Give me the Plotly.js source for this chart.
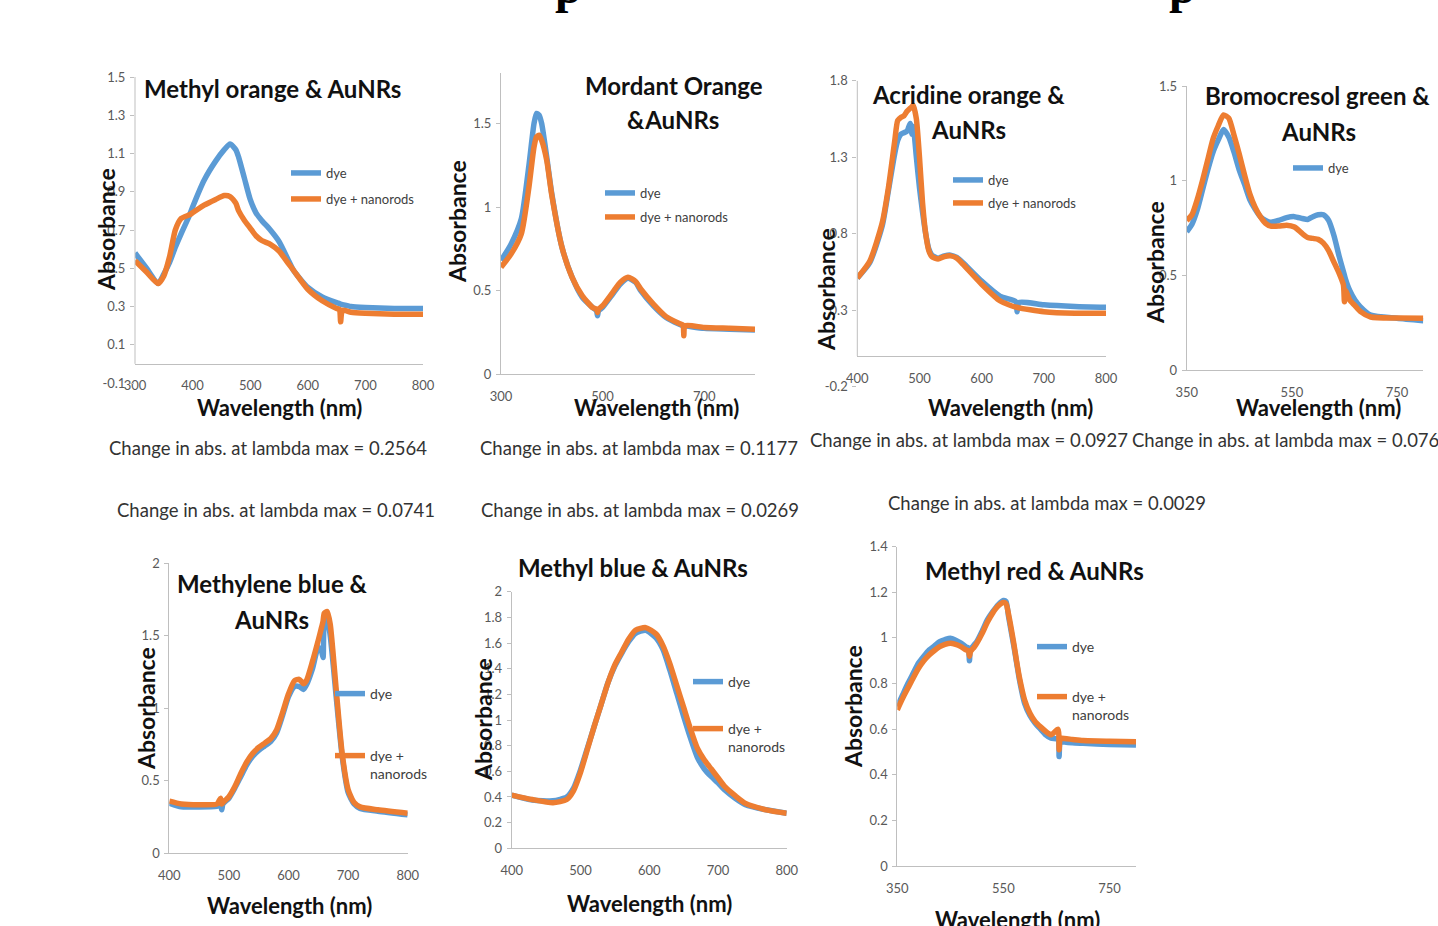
<!DOCTYPE html>
<html>
<head>
<meta charset="utf-8">
<script src="https://cdn.plot.ly/plotly-3.0.1.min.js"></script>
<style>
html,body{margin:0;padding:0;background:#fff;}
#chart{width:1438px;height:926px;}
</style>
</head>
<body>
<div id="chart"></div>
<script>
// ---------------- DATA ----------------
// 1. Methyl orange & AuNRs
const moWl   = [300,320,340,350,360,370,380,395,400,420,440,455,465,475,480,490,500,510,520,535,550,565,575,600,625,650,655,657,660,675,700,750,800];
const moDye  = [0.58,0.50,0.42,0.47,0.53,0.61,0.68,0.78,0.82,0.96,1.06,1.12,1.15,1.12,1.08,0.97,0.86,0.79,0.75,0.70,0.64,0.55,0.49,0.40,0.35,0.32,0.315,0.312,0.31,0.30,0.295,0.29,0.29];
const moNano = [0.54,0.48,0.42,0.46,0.56,0.70,0.76,0.78,0.79,0.83,0.86,0.88,0.875,0.84,0.80,0.75,0.71,0.67,0.645,0.625,0.59,0.53,0.49,0.39,0.33,0.29,0.285,0.22,0.28,0.27,0.265,0.26,0.26];

// 2. Mordant Orange & AuNRs
const mdWl   = [300,320,340,355,365,370,375,380,390,400,420,440,460,480,488,490,492,500,520,535,550,565,575,600,625,650,658,660,662,700,750,800];
const mdDye  = [0.68,0.78,0.93,1.25,1.50,1.56,1.55,1.50,1.30,1.08,0.76,0.58,0.46,0.40,0.38,0.35,0.38,0.40,0.48,0.54,0.575,0.55,0.50,0.41,0.34,0.30,0.29,0.29,0.29,0.275,0.27,0.265];
const mdNano = [0.64,0.72,0.84,1.12,1.36,1.42,1.43,1.40,1.28,1.07,0.76,0.58,0.47,0.40,0.39,0.37,0.39,0.41,0.49,0.55,0.58,0.555,0.51,0.42,0.345,0.305,0.295,0.23,0.29,0.28,0.275,0.27];

// 3. Acridine orange & AuNRs
const aoWl   = [400,420,440,450,460,465,470,475,480,485,488,490,495,500,505,510,515,520,530,540,550,560,570,600,630,655,657,660,700,750,800];
const aoDye  = [0.51,0.61,0.85,1.08,1.32,1.41,1.45,1.46,1.47,1.52,1.45,1.50,1.30,1.10,0.94,0.80,0.70,0.66,0.64,0.655,0.66,0.645,0.61,0.49,0.39,0.355,0.29,0.35,0.335,0.325,0.32];
const aoNano = [0.51,0.62,0.87,1.10,1.40,1.54,1.56,1.57,1.60,1.62,1.63,1.64,1.55,1.30,1.00,0.80,0.69,0.65,0.635,0.65,0.655,0.64,0.60,0.47,0.36,0.32,0.32,0.315,0.29,0.28,0.28];

// 4. Bromocresol green & AuNRs
const bgWl   = [350,360,370,380,390,400,410,420,430,440,450,460,470,480,490,500,510,525,540,555,570,580,590,600,610,620,630,640,648,650,652,660,670,680,700,750,800];
const bgDye  = [0.73,0.77,0.845,0.95,1.056,1.15,1.215,1.27,1.23,1.15,1.056,0.98,0.90,0.85,0.81,0.79,0.78,0.79,0.805,0.81,0.80,0.795,0.81,0.82,0.82,0.79,0.71,0.60,0.52,0.50,0.48,0.42,0.37,0.335,0.29,0.273,0.26];
const bgNano = [0.79,0.82,0.90,1.00,1.11,1.22,1.29,1.347,1.33,1.24,1.14,1.03,0.93,0.86,0.81,0.775,0.76,0.76,0.765,0.755,0.72,0.70,0.695,0.69,0.67,0.63,0.57,0.51,0.45,0.36,0.42,0.37,0.34,0.31,0.28,0.275,0.273];

// 5. Methylene blue & AuNRs
const mbWl   = [400,420,450,480,486,488,490,500,510,520,530,540,550,560,570,580,590,600,610,618,625,630,640,650,655,658,660,665,670,675,680,690,700,710,720,750,800];
const mbDye  = [0.345,0.32,0.32,0.325,0.33,0.30,0.34,0.38,0.45,0.53,0.61,0.67,0.71,0.74,0.77,0.83,0.95,1.08,1.15,1.15,1.13,1.16,1.27,1.42,1.40,1.35,1.58,1.62,1.50,1.30,1.08,0.67,0.42,0.34,0.31,0.29,0.265];
const mbNano = [0.36,0.34,0.335,0.34,0.38,0.34,0.35,0.39,0.46,0.55,0.63,0.69,0.73,0.76,0.79,0.85,0.97,1.10,1.19,1.20,1.17,1.19,1.32,1.47,1.55,1.60,1.655,1.667,1.58,1.37,1.13,0.69,0.44,0.35,0.32,0.30,0.276];

// 6. Methyl blue & AuNRs
const mlWl   = [400,430,460,480,490,500,510,520,530,540,550,560,570,580,595,610,620,630,640,650,660,670,680,690,700,710,725,740,770,800];
const mlDye  = [0.415,0.377,0.37,0.40,0.47,0.61,0.78,0.95,1.12,1.29,1.42,1.52,1.61,1.675,1.70,1.64,1.55,1.39,1.21,1.03,0.86,0.71,0.62,0.56,0.51,0.455,0.39,0.34,0.30,0.273];
const mlNano = [0.415,0.38,0.355,0.38,0.45,0.59,0.77,0.95,1.12,1.29,1.43,1.53,1.63,1.70,1.72,1.67,1.58,1.44,1.27,1.10,0.93,0.78,0.69,0.62,0.55,0.48,0.41,0.35,0.30,0.273];

// 7. Methyl red & AuNRs
const mrWl   = [350,360,370,380,390,400,410,420,430,440,450,460,470,480,484,486,488,495,500,510,520,530,540,550,555,560,570,575,580,590,600,610,620,630,640,653,655,657,660,680,700,750,800];
const mrDye  = [0.70,0.75,0.80,0.845,0.89,0.92,0.947,0.965,0.984,0.993,0.999,0.99,0.977,0.96,0.955,0.90,0.95,0.97,0.984,1.03,1.08,1.115,1.145,1.164,1.16,1.09,0.96,0.89,0.82,0.713,0.66,0.626,0.60,0.575,0.56,0.555,0.48,0.55,0.545,0.54,0.538,0.533,0.53];
const mrNano = [0.685,0.735,0.78,0.825,0.867,0.90,0.925,0.945,0.962,0.972,0.977,0.972,0.962,0.947,0.945,0.92,0.94,0.96,0.977,1.02,1.07,1.11,1.14,1.155,1.15,1.10,0.97,0.896,0.83,0.728,0.67,0.633,0.61,0.59,0.575,0.60,0.51,0.56,0.56,0.555,0.55,0.547,0.545];

// y tick labels of the two panels whose scale starts below zero
const moYTicks = [-0.1,0.1,0.3,0.5,0.7,0.9,1.1,1.3,1.5];
const moYLabels = ["-0.1","0.1","0.3","0.5","0.7","0.9","1.1","1.3","1.5"];
const aoYTicks = [-0.2,0.3,0.8,1.3,1.8];
const aoYLabels = ["-0.2","0.3","0.8","1.3","1.8"];

const panelTitles = [
  ["Methyl orange & AuNRs"],
  ["Mordant Orange", "&AuNRs"],
  ["Acridine orange &", "AuNRs"],
  ["Bromocresol green &", "AuNRs"],
  ["Methylene blue &", "AuNRs"],
  ["Methyl blue & AuNRs"],
  ["Methyl red & AuNRs"]
];
const seriesNames = ["dye", "dye + nanorods"];
const seriesNamesWrapped = ["dye", "dye +<br>nanorods"];
const xTitle = "Wavelength (nm)";
const yTitle = "Absorbance";
const changeTexts = [
  "Change in abs. at lambda max = 0.2564",
  "Change in abs. at lambda max = 0.1177",
  "Change in abs. at lambda max = 0.0927",
  "Change in abs. at lambda max = 0.076",
  "Change in abs. at lambda max = 0.0741",
  "Change in abs. at lambda max = 0.0269",
  "Change in abs. at lambda max = 0.0029"
];

// ---------------- LAYOUT HELPERS ----------------
const W = 1438, H = 926;
const px = x => x / W;
const py = y => 1 - y / H;
const BLUE = '#5B9BD5', ORANGE = '#ED7D31';
const FONT = 'Lato, "Open Sans", "Liberation Sans", sans-serif';
const AXC = '#bfbfbf', TICKC = '#595959';

const panels = [
  {wl:moWl, d:moDye, n:moNano, X:[135,423], Y:[383,77],  xr:[300,800], yr:[-0.1,1.5], xt0:300, xdt:100, yt0:-0.1, ydt:0.2, tv:moYTicks, tt:moYLabels, free:363.5, legs:[[291,173],[291,199]], lf:13, wrap:false},
  {wl:mdWl, d:mdDye, n:mdNano, X:[501,755], Y:[374.3,73.3], xr:[300,800], yr:[0,1.8], xt0:300, xdt:200, yt0:0, ydt:0.5, free:null, legs:[[605,193],[605,217]], lf:13, wrap:false},
  {wl:aoWl, d:aoDye, n:aoNano, X:[857.3,1106], Y:[386.7,80.7], xr:[400,800], yr:[-0.2,1.8], xt0:400, xdt:100, yt0:-0.2, ydt:0.5, tv:aoYTicks, tt:aoYLabels, free:356, legs:[[953,180],[953,203]], lf:13, wrap:false},
  {wl:bgWl, d:bgDye, n:bgNano, X:[1186.7,1423.3], Y:[370,86], xr:[350,800], yr:[0,1.5], xt0:350, xdt:200, yt0:0, ydt:0.5, free:null, legs:[[1293,168],null], lf:13, wrap:false},
  {wl:mbWl, d:mbDye, n:mbNano, X:[169.3,407.7], Y:[853.3,563.3], xr:[400,800], yr:[0,2], xt0:400, xdt:100, yt0:0, ydt:0.5, free:null, legs:[[335,694],[335,752]], lf:14, wrap:true},
  {wl:mlWl, d:mlDye, n:mlNano, X:[511.7,786.7], Y:[848.3,591.7], xr:[400,800], yr:[0,2], xt0:400, xdt:100, yt0:0, ydt:0.2, free:null, legs:[[693,682],[693,725]], lf:14, wrap:true},
  {wl:mrWl, d:mrDye, n:mrNano, X:[897.3,1136], Y:[866,546.7], xr:[350,800], yr:[0,1.4], xt0:350, xdt:200, yt0:0, ydt:0.2, free:null, legs:[[1037,647],[1037,693]], lf:14, wrap:true}
];

const titlePos = [
  [[272,89]],
  [[674,85],[673,120]],
  [[968,94],[968,129]],
  [[1317,96],[1318,131]],
  [[272,583],[271,619]],
  [[633,567]],
  [[1034,570]]
];
const yTitlePos = [[106,230],[457,222],[826,290],[1155,263],[146,709],[483,720],[853,706]];
const xTitlePos = [[279,407],[656,408],[1010,408],[1318,408],[289,905],[649,903],[1017,919]];
const changePos = [[268,448],[639,448],[969,440],[1285,440],[276,510],[640,510],[1047,503]];

const data = [];
const layout = {
  width: W, height: H,
  margin: {l:0, r:0, t:0, b:0},
  paper_bgcolor: '#ffffff', plot_bgcolor: 'rgba(0,0,0,0)',
  showlegend: true,
  font: {family: FONT, color: TICKC},
  annotations: [], shapes: []
};

let legCount = 0;
panels.forEach((p, i) => {
  const k = i + 1;
  const xa = 'xaxis' + (k === 1 ? '' : k), ya = 'yaxis' + (k === 1 ? '' : k);
  const xid = 'x' + (k === 1 ? '' : k), yid = 'y' + (k === 1 ? '' : k);
  const xdef = {
    domain: [px(p.X[0]), px(p.X[1])], range: p.xr, tick0: p.xt0, dtick: p.xdt,
    showgrid: false, zeroline: false, showline: true, linecolor: AXC, linewidth: 1,
    ticks: '', tickfont: {family: FONT, size: 13, color: TICKC}, ticklabelstandoff: 10,
    fixedrange: true
  };
  if (p.free !== null) { xdef.anchor = 'free'; xdef.position = py(p.free); }
  else { xdef.anchor = yid; }
  layout[xa] = xdef;
  const ydef = {
    domain: [py(p.Y[0]), py(p.Y[1])], range: p.yr, tick0: p.yt0, dtick: p.ydt,
    anchor: xid, showgrid: false, zeroline: false,
    showline: p.free === null, linecolor: AXC, linewidth: 1,
    ticks: 'outside', ticklen: 4, tickcolor: AXC,
    tickfont: {family: FONT, size: 13, color: TICKC}, ticklabelstandoff: 2,
    fixedrange: true
  };
  if (p.tv) { ydef.tickmode = 'array'; ydef.tickvals = p.tv; ydef.ticktext = p.tt; }
  layout[ya] = ydef;
  if (p.free !== null) {
    layout.shapes.push({type:'line', xref: xid + ' domain', x0:0, x1:0, yref: yid, y0:0, y1:p.yr[1],
      line:{color:AXC, width:1}});
  }
  const names = p.wrap ? seriesNamesWrapped : seriesNames;
  const series = [p.d, p.n];
  const colors = [BLUE, ORANGE];
  series.forEach((ys, s) => {
    const tr = {
      type: 'scatter', mode: 'lines', x: p.wl, y: ys, xaxis: xid, yaxis: yid,
      name: names[s], line: {color: colors[s], width: 5.5, shape: 'spline', smoothing: 0.6},
      hoverinfo: 'skip'
    };
    const lg = p.legs[s];
    if (lg) {
      legCount++;
      const lid = 'legend' + (legCount === 1 ? '' : legCount);
      tr.legend = lid;
      layout[lid] = {
        x: px(lg[0] - 5), y: py(lg[1]), xanchor: 'left',
        yanchor: (p.wrap && s === 1) ? 'top' : 'middle',
        bgcolor: 'rgba(0,0,0,0)', borderwidth: 0, valign: 'top',
        font: {family: FONT, size: p.lf, color: '#404040'}, tracegroupgap: 0
      };
      if (p.wrap && s === 1) layout[lid].y = py(lg[1] - 12);
    } else {
      tr.showlegend = false;
    }
    data.push(tr);
  });

  titlePos[i].forEach((pos, j) => {
    layout.annotations.push({text: '<b>' + panelTitles[i][j] + '</b>', x: px(pos[0]), y: py(pos[1]),
      xref:'paper', yref:'paper', xanchor:'center', yanchor:'middle', showarrow:false,
      font:{family: FONT, size: 24, color:'#111111'}});
  });
  layout.annotations.push({text: '<b>' + yTitle + '</b>', x: px(yTitlePos[i][0]), y: py(yTitlePos[i][1]),
    xref:'paper', yref:'paper', xanchor:'center', yanchor:'middle', showarrow:false, textangle:-90,
    font:{family: FONT, size: 23, color:'#111111'}});
  layout.annotations.push({text: '<b>' + xTitle + '</b>', x: px(xTitlePos[i][0]), y: py(xTitlePos[i][1]),
    xref:'paper', yref:'paper', xanchor:'center', yanchor:'middle', showarrow:false,
    font:{family: FONT, size: 22, color:'#111111'}});
  layout.annotations.push({text: changeTexts[i], x: px(changePos[i][0]), y: py(changePos[i][1]),
    xref:'paper', yref:'paper', xanchor:'center', yanchor:'middle', showarrow:false,
    font:{family: FONT, size: 18.5, color:'#333333'}});
});

// cut-off serif glyph descenders at the very top of the page
[[553],[1167]].forEach(pos => {
  layout.annotations.push({text:'<b>p</b>', x: px(pos[0]), y: py(-14), xref:'paper', yref:'paper',
    xanchor:'left', yanchor:'middle', showarrow:false,
    font:{family:'"Liberation Serif", "DejaVu Serif", serif', size:48, color:'#000000'}});
});

Plotly.newPlot('chart', data, layout, {displayModeBar:false, staticPlot:true});
</script>
</body>
</html>
